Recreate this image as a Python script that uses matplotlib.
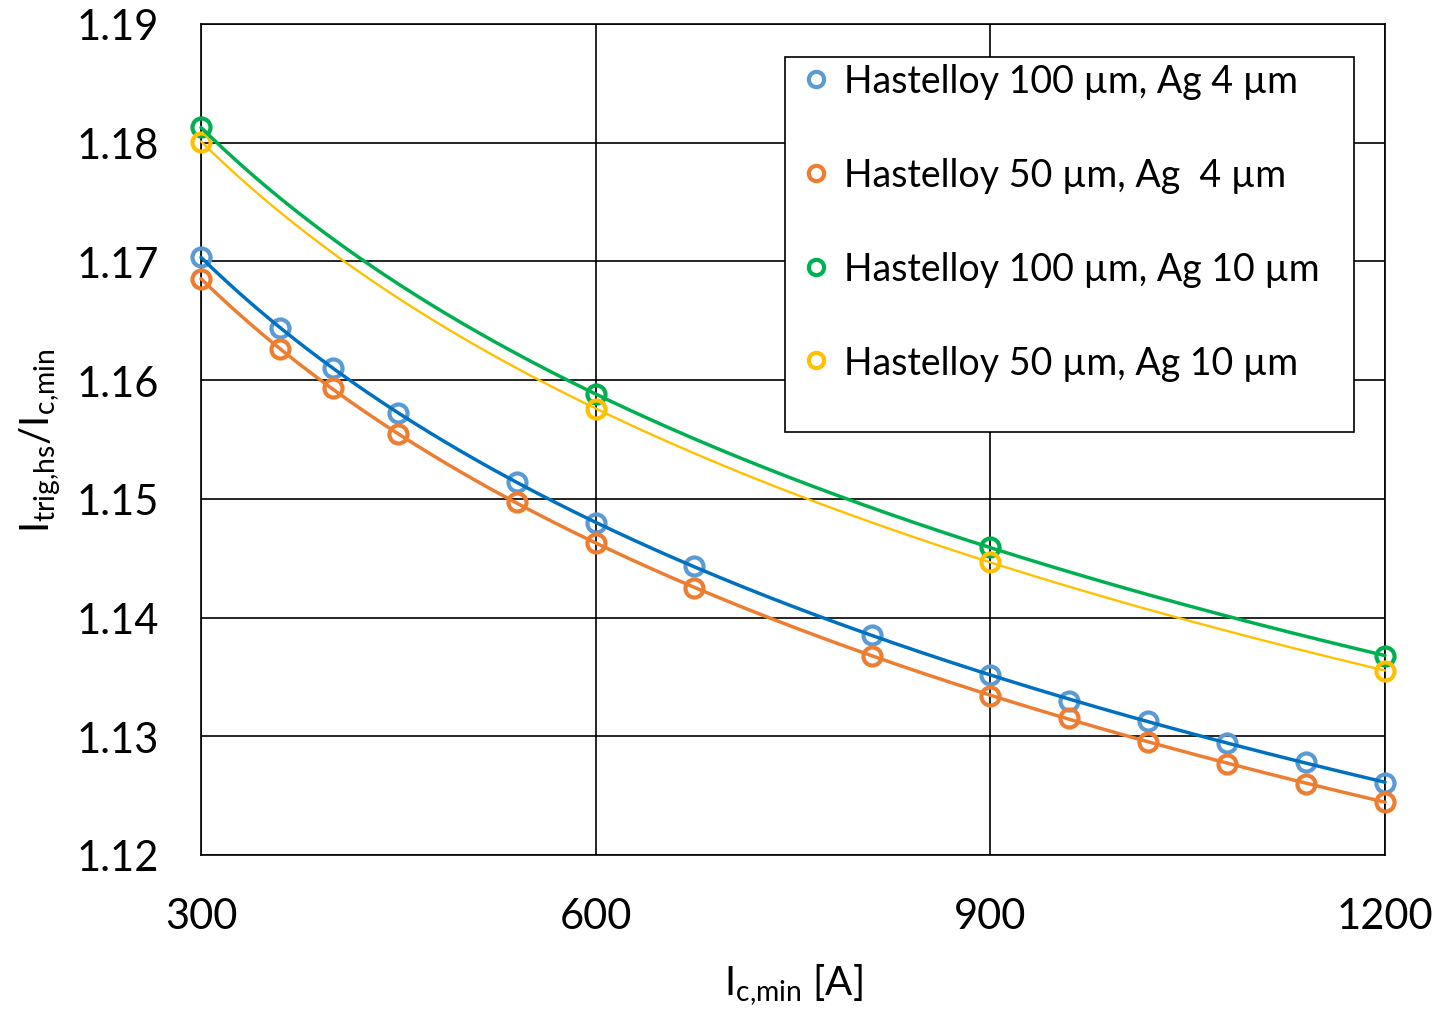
import numpy as np
import matplotlib
matplotlib.use("Agg")
import matplotlib.pyplot as plt
from matplotlib.patches import Rectangle
from matplotlib.lines import Line2D

plt.rcParams['font.family'] = ['Lato', 'DejaVu Sans']
plt.rcParams['mathtext.fontset'] = 'custom'
plt.rcParams['mathtext.rm'] = 'Lato'

# data
x_fine = [300, 360, 400, 450, 540, 600, 675, 810, 900, 960, 1020, 1080, 1140, 1200]
y_h100_ag4 = [1.1704, 1.1644, 1.1610, 1.1572, 1.1514, 1.1480, 1.1443, 1.1385,
              1.1352, 1.1330, 1.1313, 1.1294, 1.1278, 1.1261]
y_h50_ag4 = [1.1685, 1.1626, 1.1593, 1.1555, 1.1497, 1.1463, 1.1425, 1.1368,
             1.1334, 1.1315, 1.1295, 1.1277, 1.1260, 1.1245]
x_coarse = [300, 600, 900, 1200]
y_h100_ag10 = [1.1813, 1.1588, 1.1459, 1.1368]
y_h50_ag10 = [1.1801, 1.1576, 1.1447, 1.1355]

labels = ["Hastelloy 100 µm, Ag 4 µm", "Hastelloy 50 µm, Ag  4 µm",
          "Hastelloy 100 µm, Ag 10 µm", "Hastelloy 50 µm, Ag 10 µm"]

fig = plt.figure(figsize=(14.39, 10.12), dpi=100)
ax = fig.add_axes([0.1397, 0.1542, 0.8228, 0.8211])

series = [
    (x_fine, y_h100_ag4, '#0070C0', '#5B9BD5', 2.5),
    (x_fine, y_h50_ag4, '#ED7D31', '#ED7D31', 2.5),
    (x_coarse, y_h100_ag10, '#00B050', '#00B050', 2.5),
    (x_coarse, y_h50_ag10, '#FFC000', '#FFC000', 1.7),
]

handles = []
for (xs, ys, lc, mc, lw), lab in zip(series, labels):
    ax.plot(xs, ys, linestyle='none', marker='o', ms=13, mew=3.0,
            mfc='none', mec=mc, zorder=3, clip_on=False)
    # power trendline fitted to the series (as in the original spreadsheet)
    b, ln_a = np.polyfit(np.log(xs), np.log(ys), 1)
    xt = np.linspace(min(xs), max(xs), 300)
    ax.plot(xt, np.exp(ln_a) * xt ** b, color=lc, lw=lw, zorder=4,
            clip_on=False, solid_capstyle='round')
    handles.append(Line2D([], [], linestyle='none', marker='o', ms=11, mew=3.0,
                          mfc='none', mec=mc, label=lab))

ax.set_xlim(300, 1200)
ax.set_ylim(1.12, 1.19)
ax.set_xticks([300, 600, 900, 1200])
yt = np.arange(1.12, 1.1901, 0.01)
ax.set_yticks(yt)
ax.set_yticklabels([f"{v:.2f}" for v in yt])
ax.grid(True, color='black', linewidth=1.2)
ax.set_axisbelow(True)
for s in ax.spines.values():
    s.set_color('black')
    s.set_linewidth(1.2)
ax.tick_params(axis='both', length=0, labelsize=30)
ax.tick_params(axis='y', pad=30)
ax.tick_params(axis='x', pad=30)

ax.set_xlabel(r'$\mathregular{I_{c{,}min}}$ [A]', fontsize=29, labelpad=20)
ax.set_ylabel(r'$\mathregular{I_{trig{,}hs}/I_{c{,}min}}$', fontsize=29, labelpad=10)

# legend frame drawn as a patch so it can be taller than the entries
ax.add_patch(Rectangle((0.4932, 0.509), 0.4806, 0.4513, transform=ax.transAxes,
                       facecolor='white', edgecolor='black', lw=1.2, zorder=5))
leg = ax.legend(handles=handles, loc='upper left', bbox_to_anchor=(0.4966, 0.9603),
                frameon=False, fontsize=27, labelspacing=1.54, handlelength=1.1,
                handletextpad=0.2, borderpad=0.17, borderaxespad=0)
leg.set_zorder(6)

fig.savefig('out.png', dpi=100)
